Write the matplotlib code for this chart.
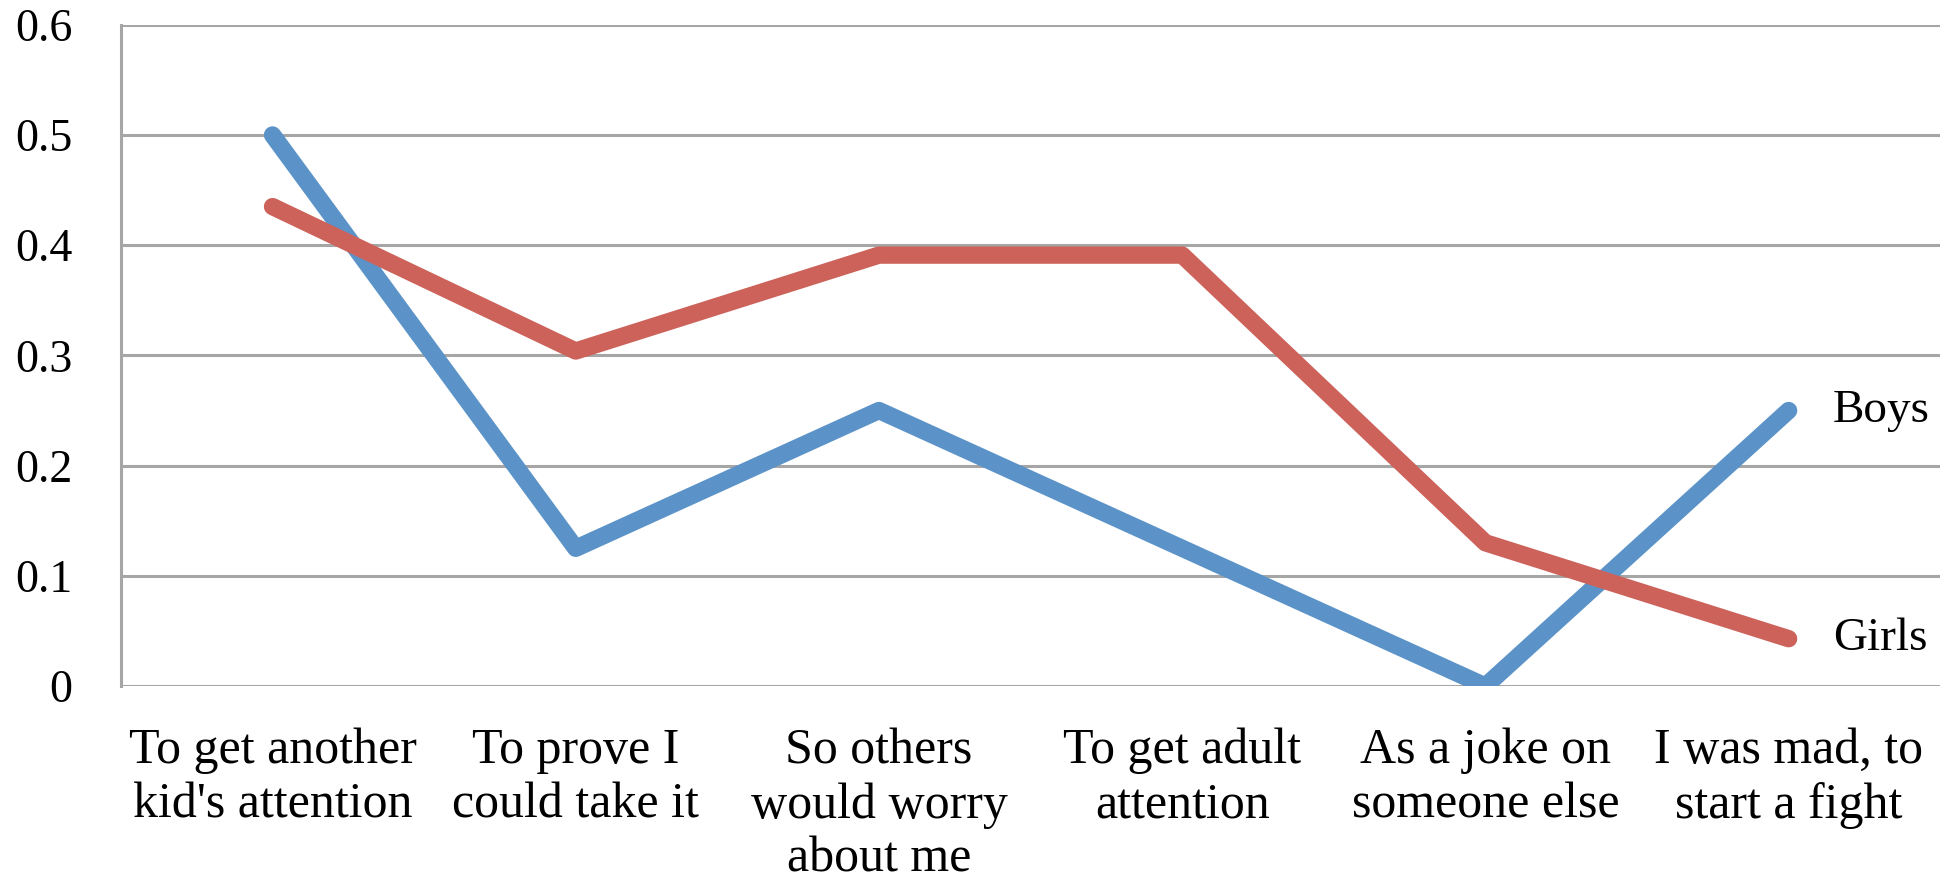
import matplotlib.pyplot as plt

# reasons given, share of boys / girls
Reasons = ["To get another\nkid's attention", "To prove I\ncould take it",
           "So others\nwould worry\nabout me", "To get adult\nattention",
           "As a joke on\nsomeone else", "I was mad, to\nstart a fight"]
Boys = [0.5, 0.125, 0.25, 0.125, 0.0, 0.25]
Girls = [0.435, 0.304, 0.391, 0.391, 0.13, 0.043]
YTicks = [0, 0.1, 0.2, 0.3, 0.4, 0.5, 0.6]
YTickLabels = ["0", "0.1", "0.2", "0.3", "0.4", "0.5", "0.6"]

BoysColour = "#5B93C8"
GirlsColour = "#CC625A"
GridColour = "#A6A6A6"
LabelFont = ["Liberation Serif", "DejaVu Serif"]
FontSize = 33
CatSize = 36

fig = plt.figure(figsize=(19.5, 8.83), dpi=100)
ax = fig.add_axes([0.062, 0.223, 0.933, 0.749])

X = list(range(len(Reasons)))
ax.plot(X, Boys, color=BoysColour, lw=12.5, solid_capstyle="round", solid_joinstyle="round", zorder=3)
ax.plot(X, Girls, color=GirlsColour, lw=12.5, solid_capstyle="round", solid_joinstyle="round", zorder=3)

ax.annotate("Boys", (X[-1], Boys[-1]), xytext=(32, 0), textcoords="offset points",
            va="center", ha="left", fontsize=34, family=LabelFont)
ax.annotate("Girls", (X[-1], Girls[-1]), xytext=(32, 0), textcoords="offset points",
            va="center", ha="left", fontsize=34, family=LabelFont)

ax.set_xlim(-0.5, len(Reasons) - 0.5)
ax.set_ylim(0, 0.6)
ax.set_yticks(YTicks)
ax.set_yticklabels(YTickLabels, family=LabelFont, fontsize=FontSize)
ax.set_xticks(X)
ax.set_xticklabels(Reasons, family=LabelFont, fontsize=CatSize, linespacing=1.22)
ax.tick_params(axis="y", length=0, pad=35)
ax.tick_params(axis="x", length=0, pad=30)

ax.yaxis.grid(True, color=GridColour, lw=2.2)
ax.set_axisbelow(True)
for s in ["top", "right", "bottom"]:
    ax.spines[s].set_visible(False)
ax.spines["left"].set_color(GridColour)
ax.spines["left"].set_linewidth(2.2)

fig.savefig("out.png", dpi=100)
